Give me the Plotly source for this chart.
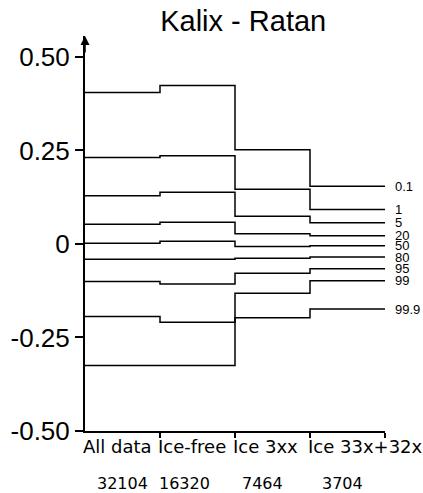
import plotly.graph_objects as go

# ---- data ----
categories = ["All data", "Ice-free", "Ice 3xx", "Ice 33x+32x"]
counts = ["32104", "16320", "7464", "3704"]
quantile_labels = ["0.1", "1", "5", "20", "50", "80", "95", "99", "99.9"]

q0_1 = [0.405, 0.424, 0.252, 0.154]
q1 = [0.231, 0.236, 0.146, 0.092]
q5 = [0.129, 0.138, 0.074, 0.057]
q20 = [0.053, 0.058, 0.027, 0.022]
q50 = [0.002, 0.007, -0.007, -0.005]
q80 = [-0.041, -0.041, -0.038, -0.035]
q95 = [-0.100, -0.107, -0.078, -0.066]
q99 = [-0.194, -0.209, -0.132, -0.098]
q99_9 = [-0.325, -0.325, -0.197, -0.174]

series = [q0_1, q1, q5, q20, q50, q80, q95, q99, q99_9]

y_tickvals = [0.5, 0.25, 0, -0.25, -0.5]
y_ticktext = ["0.50", "0.25", "0", "-0.25", "-0.50"]

# ---- layout constants ----
count_x = [0.50, 1.33, 2.37, 3.43]
Y_TOP = 0.556
NARROW = "Liberation Sans, sans-serif"
WIDE = "DejaVu Sans, sans-serif"

fig = go.Figure()
n = len(categories)
edges = list(range(n + 1))
for vals in series:
    fig.add_trace(go.Scatter(
        x=edges, y=vals + [vals[-1]], mode="lines", line_shape="hv",
        line=dict(color="black", width=1.5), showlegend=False, hoverinfo="skip"))

ann = []
for lab, vals in zip(quantile_labels, series):
    ann.append(dict(x=n, y=vals[-1], xref="x", yref="y", text=lab, showarrow=False,
                    xanchor="left", yanchor="middle", xshift=8,
                    font=dict(family=NARROW, size=13, color="black")))
for i, c in enumerate(categories):
    ann.append(dict(x=i, y=-0.040, xref="x", yref="paper", text=c, showarrow=False,
                    xanchor="left", yanchor="middle", xshift=-4,
                    font=dict(family=WIDE, size=18, color="black")))
for xc, c in zip(count_x, counts):
    ann.append(dict(x=xc, y=-0.132, xref="x", yref="paper", text=c, showarrow=False,
                    xanchor="center", yanchor="middle",
                    font=dict(family=WIDE, size=16, color="black")))
# arrow at top of y axis
ann.append(dict(x=0, y=Y_TOP, xref="x", yref="y", ax=0, ay=18, text="",
                showarrow=True, arrowhead=2, arrowsize=1.2, arrowwidth=1.5,
                arrowcolor="black"))

fig.update_layout(
    width=423, height=493,
    margin=dict(l=85, r=38, t=36, b=62, autoexpand=False),
    paper_bgcolor="white", plot_bgcolor="white",
    title=dict(text="Kalix - Ratan", x=0.575, xanchor="center", y=0.957, yanchor="middle",
               font=dict(family="Liberation Sans, sans-serif", size=29, color="black")),
    annotations=ann,
)
fig.update_xaxes(range=[0, n], showgrid=False, zeroline=False, showline=True,
                 linecolor="black", linewidth=2, ticks="outside", ticklen=5,
                 tickcolor="black", tickwidth=1.5, tickvals=edges[1:],
                 ticktext=["" for _ in edges[1:]], automargin=False)
fig.update_yaxes(range=[-0.5, Y_TOP], showgrid=False, zeroline=False, showline=True,
                 linecolor="black", linewidth=2, ticks="outside", ticklen=8,
                 tickcolor="black", tickwidth=1.5, tickvals=y_tickvals,
                 ticktext=y_ticktext, automargin=False,
                 tickfont=dict(family=NARROW, size=26, color="black"))

fig.write_html("out.html")
